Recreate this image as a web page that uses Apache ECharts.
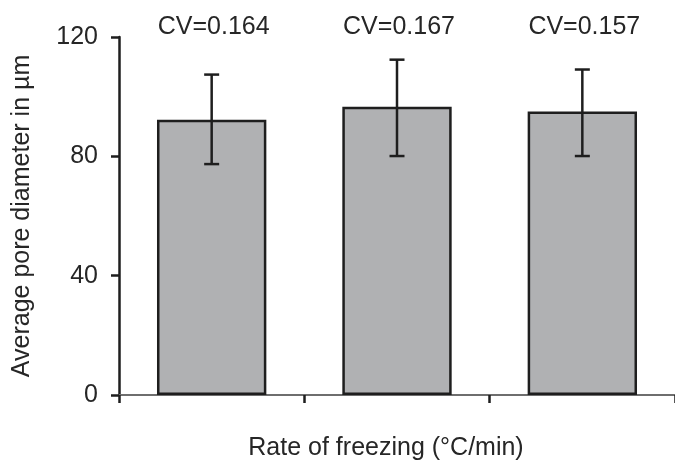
<!DOCTYPE html>
<html>
<head>
<meta charset="utf-8">
<script src="https://cdn.jsdelivr.net/npm/echarts@6/dist/echarts.min.js"></script>
<style>
html,body{margin:0;padding:0;background:#fff;}
#chart{width:675px;height:466px;}
</style>
</head>
<body>
<div id="chart"></div>
<script>
var categories = ['Rate 1', 'Rate 2', 'Rate 3'];
var meanDiameter = [92.3, 96.6, 95.0];
var errLower = [77.4, 80.1, 80.1];
var errUpper = [107.4, 112.4, 109.1];
var cvLabels = ['CV=0.164', 'CV=0.167', 'CV=0.157'];
var yMin = 0, yMax = 120, yStep = 40;

var FONT = '"Liberation Sans", Arial, sans-serif';
var TXT = '#262626';
var FS = 25;

var errData = categories.map(function (c, i) {
  return [i, errLower[i], errUpper[i], cvLabels[i]];
});

var chart = echarts.init(document.getElementById('chart'), null, {renderer: 'canvas'});
chart.setOption({
  animation: false,
  grid: {left: 119, top: 37, bottom: 66, width: 559},
  xAxis: {
    type: 'category',
    data: categories,
    boundaryGap: true,
    name: 'Rate of freezing (°C/min)',
    nameLocation: 'middle',
    nameGap: 41,
    nameTextStyle: {fontFamily: FONT, fontSize: FS, color: TXT, padding: [0, 22, 0, 0]},
    axisLine: {lineStyle: {color: '#6e6e6e', width: 2}},
    axisTick: {show: true, length: 8, lineStyle: {color: '#1e1e1e', width: 2.5}},
    axisLabel: {show: false},
    splitLine: {show: false}
  },
  yAxis: {
    type: 'value',
    min: yMin, max: yMax, interval: yStep,
    name: 'Average pore diameter in µm',
    nameLocation: 'middle',
    nameGap: 84,
    nameTextStyle: {fontFamily: FONT, fontSize: FS, color: TXT},
    axisLine: {show: true, lineStyle: {color: '#1e1e1e', width: 2.5}},
    axisTick: {show: true, length: 8, lineStyle: {color: '#1e1e1e', width: 2.5}},
    axisLabel: {fontFamily: FONT, fontSize: FS, color: TXT, margin: 21},
    splitLine: {show: false}
  },
  series: [
    {
      type: 'bar',
      data: meanDiameter,
      barWidth: '59%',
      itemStyle: {color: '#b0b1b3', borderColor: '#1e1e1e', borderWidth: 2.5}
    },
    {
      type: 'custom',
      data: errData,
      z: 5,
      renderItem: function (params, api) {
        var x = api.value(0);
        var lo = api.coord([x, api.value(1)]);
        var hi = api.coord([x, api.value(2)]);
        var top = api.coord([x, yMax]);
        var half = 7.5;
        var st = {stroke: '#1e1e1e', lineWidth: 2.5};
        return {
          type: 'group',
          children: [
            {type: 'line', shape: {x1: hi[0], y1: hi[1], x2: lo[0], y2: lo[1]}, style: st},
            {type: 'line', shape: {x1: hi[0] - half, y1: hi[1], x2: hi[0] + half, y2: hi[1]}, style: st},
            {type: 'line', shape: {x1: lo[0] - half, y1: lo[1], x2: lo[0] + half, y2: lo[1]}, style: st},
            {type: 'text', x: top[0] + 2, y: top[1] + 3,
              style: {text: api.value(3), fill: TXT, font: FS + 'px ' + FONT, align: 'center', verticalAlign: 'bottom'}}
          ]
        };
      }
    }
  ]
});
</script>
</body>
</html>
